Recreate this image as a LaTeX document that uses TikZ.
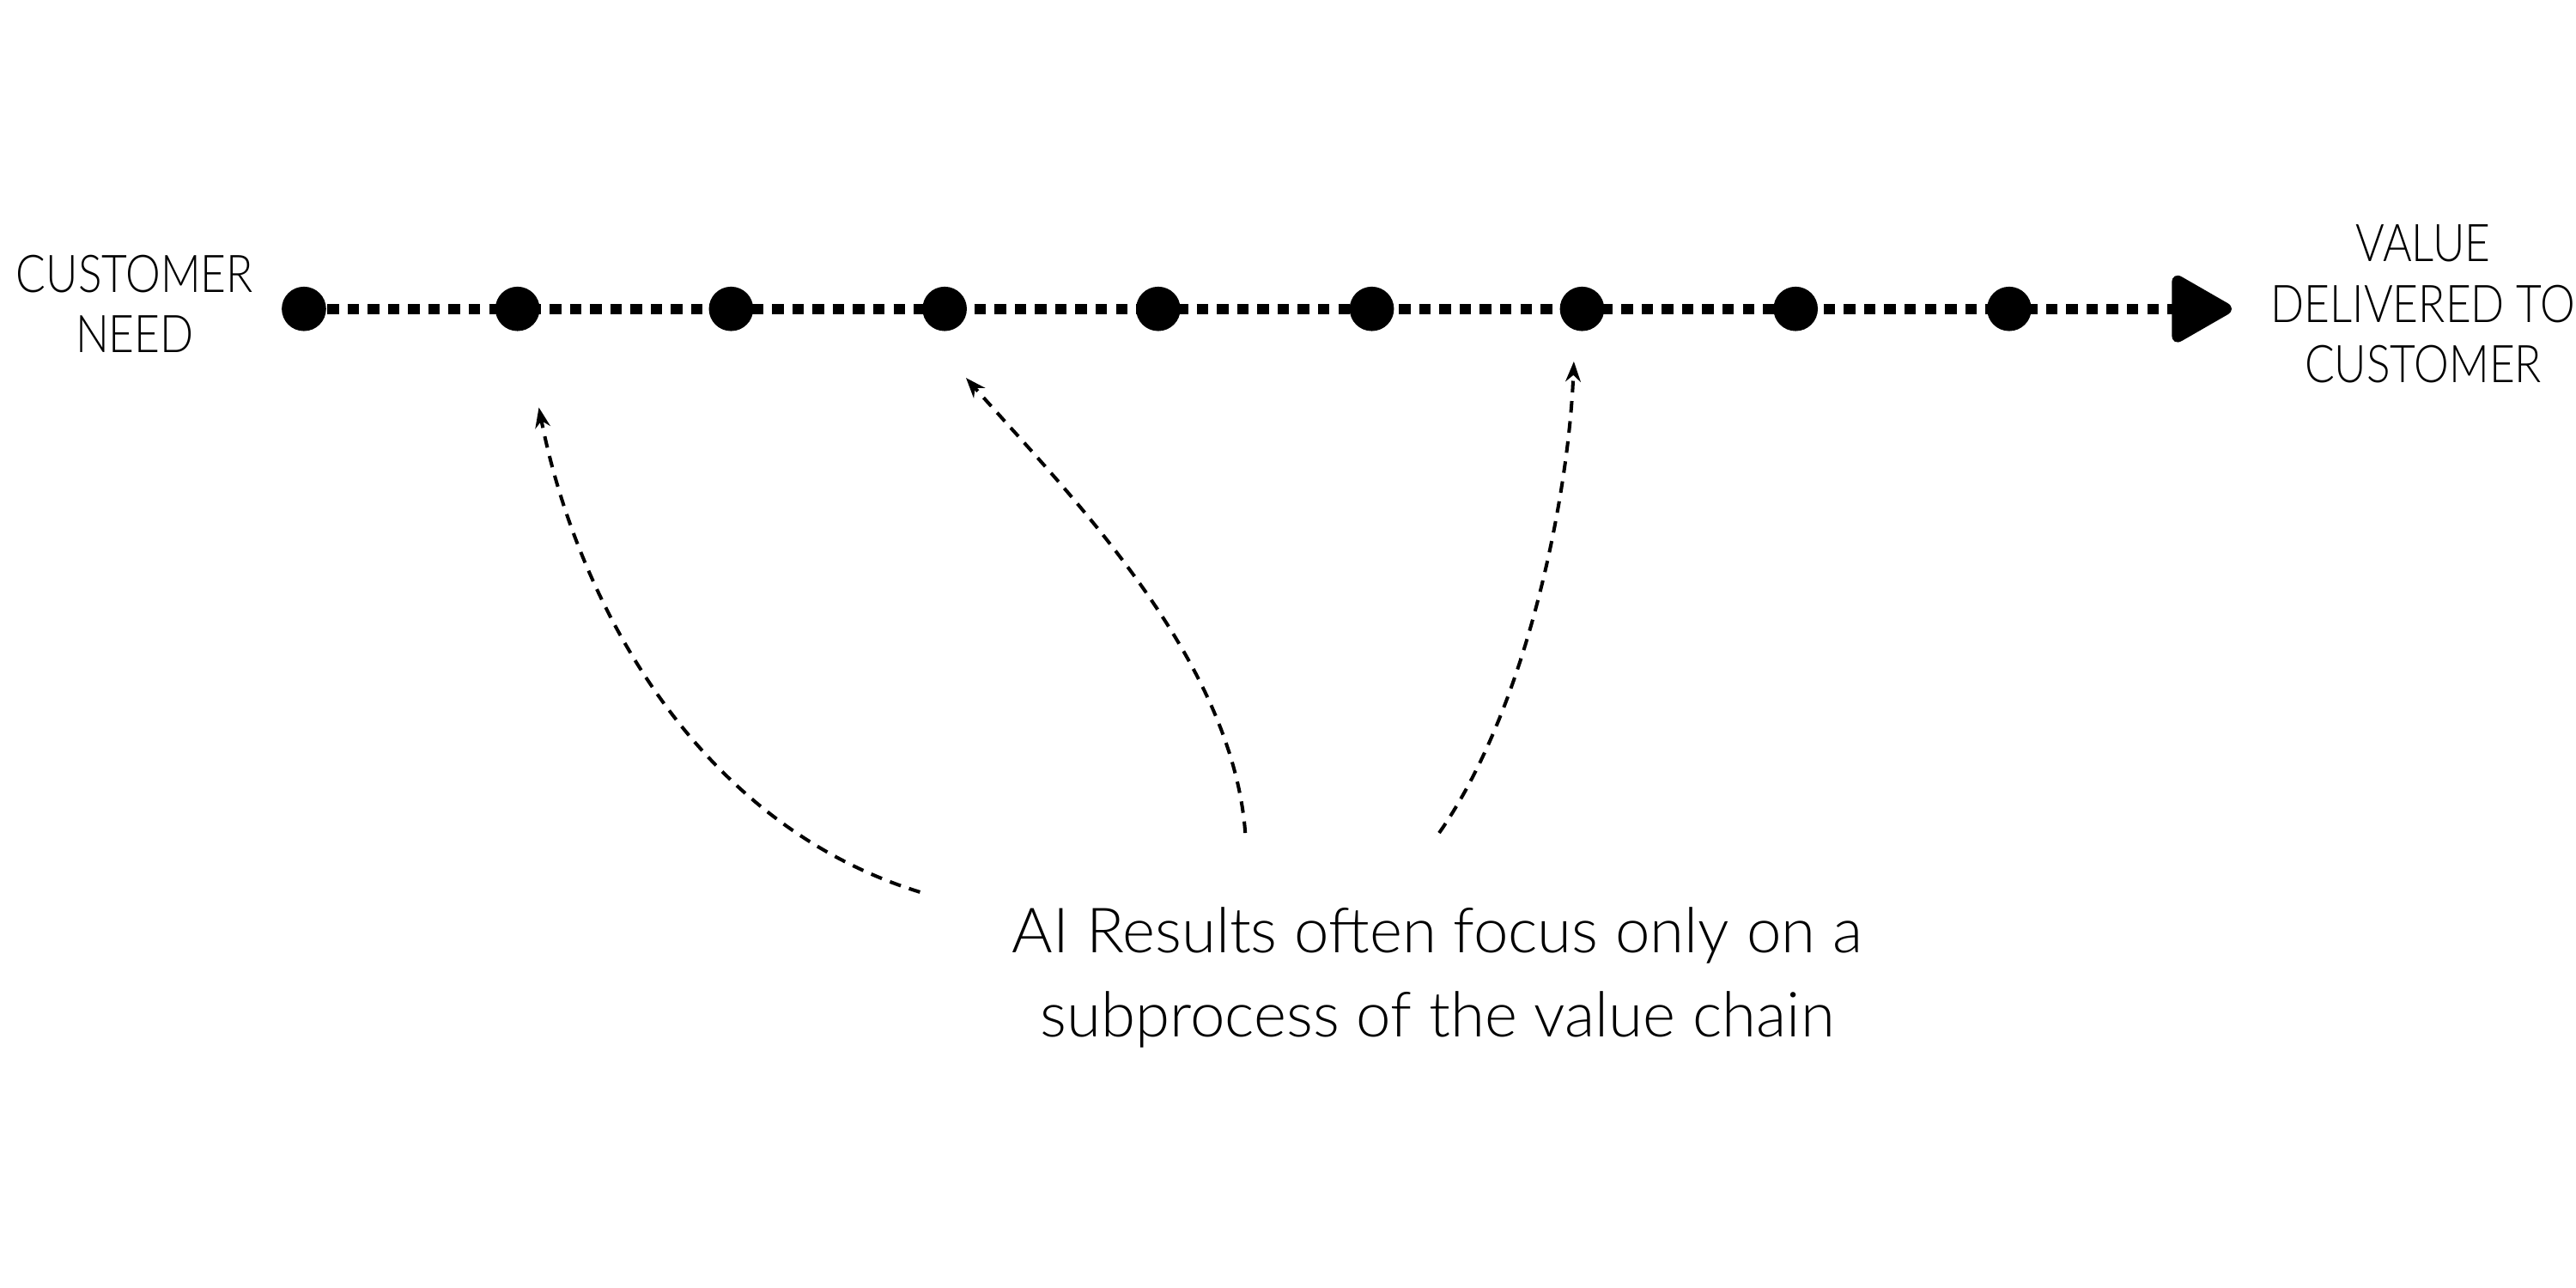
\documentclass[tikz,border=0pt]{standalone}
\usepackage{fontspec}
\setmainfont{Lato Light}
\usetikzlibrary{arrows.meta}
\tikzset{
  stage/.style={circle, fill=black, inner sep=0pt, minimum size=0.27cm},
  chain/.style={line width=1.8pt, dash pattern=on 2pt off 1.5pt},
  caption/.style={align=center, font=\fontsize{9}{10.5}\selectfont},
  pointer/.style={semithick, dash pattern=on 2pt off 1.5pt, -{Stealth[length=3.5pt]}}
}
\begin{document}
\begin{tikzpicture}[x=0.01cm, y=-0.01cm]
\useasboundingbox (0,0) rectangle (1568,784);
\node[caption, xscale=0.85] (need) at (82,185) {CUSTOMER\\NEED};
\node[caption, xscale=0.85] (value) at (1475,185) {VALUE\\DELIVERED TO\\CUSTOMER};
\node[stage] (s1) at (185,188) {};
\node[stage] (s2) at (315,188) {};
\node[stage] (s3) at (445,188) {};
\node[stage] (s4) at (575,188) {};
\node[stage] (s5) at (705,188) {};
\node[stage] (s6) at (835,188) {};
\node[stage] (s7) at (963,188) {};
\node[stage] (s8) at (1093,188) {};
\node[stage] (s9) at (1223,188) {};
\coordinate (tip) at (1362,188);
\node[caption, font=\fontsize{10.8}{14.5}\selectfont] (note) at (875,595) {AI Results often focus only on a\\subprocess of the value chain};
\coordinate (a1) at (560,543);
\coordinate (a2) at (758,507);
\coordinate (a3) at (876,507);
\coordinate (t1) at (328,248);
\coordinate (t2) at (588,230);
\coordinate (t3) at (958,220);

\draw[chain] (s1) -- (1325,188);
\fill[rounded corners=2pt] (1322,165) -- (tip) -- (1322,211) -- cycle;

\draw[pointer] (a1) .. controls (420,500) and (350,360) .. (t1);
\draw[pointer] (a2) .. controls (750,400) and (650,300) .. (t2);
\draw[pointer] (a3) .. controls (930,430) and (955,300) .. (t3);
\end{tikzpicture}
\end{document}
